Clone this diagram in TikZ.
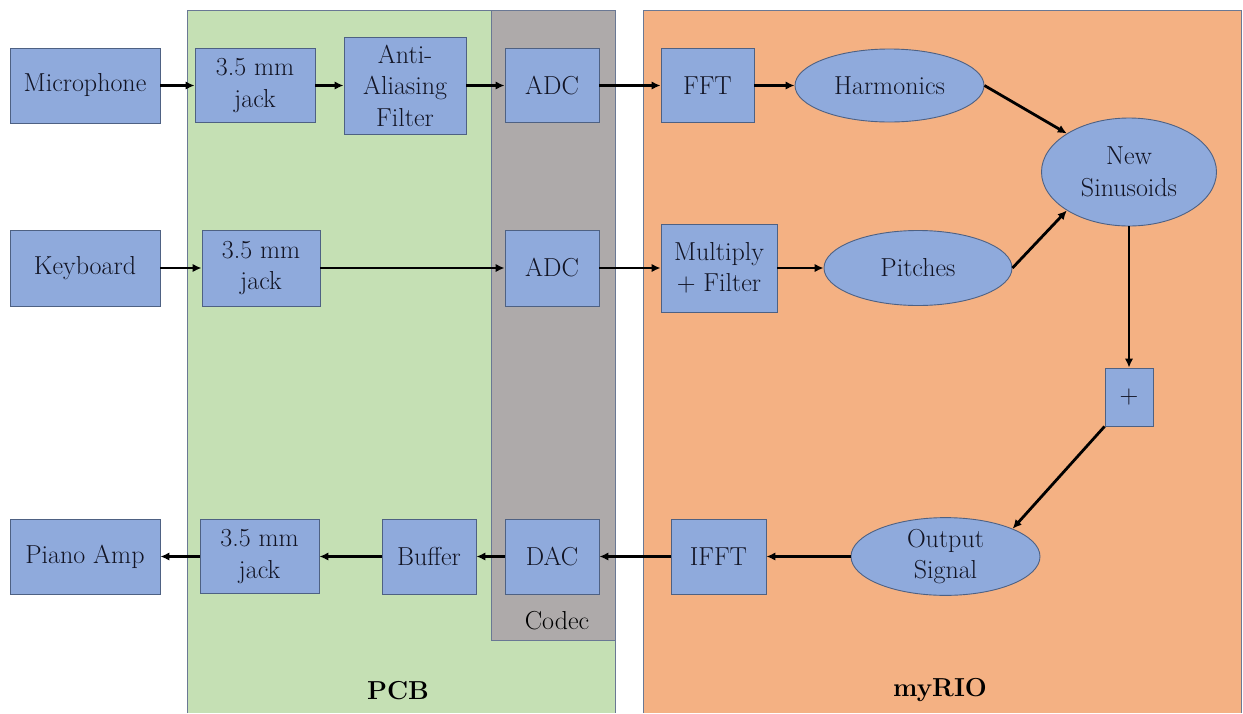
\documentclass[tikz,border=0pt]{standalone}
\usepackage{fontspec}
\usetikzlibrary{arrows.meta,shapes.geometric}

\definecolor{blockblue}{HTML}{8FAADC}
\definecolor{blockline}{HTML}{4E6183}
\definecolor{pcbgreen}{HTML}{C5E0B4}
\definecolor{codecgray}{HTML}{AEAAAA}
\definecolor{riorange}{HTML}{F4B183}
\definecolor{regionline}{HTML}{6A7894}
\definecolor{inktext}{HTML}{121424}

\begin{document}
\begin{tikzpicture}[x=1pt,y=-1pt,
    font=\fontsize{26}{31.5}\selectfont,
    block/.style={draw=blockline, line width=0.9pt, fill=blockblue, text=inktext,
                  inner sep=0pt, align=center},
    blob/.style={block, ellipse},
    flow/.style={line width=2.8pt, -{Latex[length=9pt,width=8.5pt]}}]

\useasboundingbox (0,0) rectangle (1243,713);
\fill[white] (0,0) rectangle (1243,713);

%% regions
\fill[pcbgreen] (187,10) rectangle (615,713);                       %% PCB
\draw[regionline, line width=0.8pt] (187,713) -- (187,10) -- (615,10) -- (615,713);
\filldraw[fill=codecgray, draw=regionline, line width=0.8pt] (491,10) rectangle (615,640); %% codec
\fill[riorange] (643,10) rectangle (1241,713);                      %% myRIO
\draw[regionline, line width=0.8pt] (643,713) -- (643,10) -- (1241,10) -- (1241,713);

%% region labels
\node (pcblbl)   at (398,691) {\bfseries PCB};
\node (riolbl)   at (940,690) {\bfseries myRIO};
\node (codeclbl) at (557,621) {Codec};

%% blocks, top row
\node[block, minimum width=150, minimum height=75] (mic)   at (85,85.5)  {Microphone};
\node[block, minimum width=120, minimum height=74] (jackA) at (255,85.5) {3.5 mm\\jack};
\node[block, minimum width=122, minimum height=97] (aaf)   at (405,85.5) {Anti-\\Aliasing\\Filter};
\node[block, minimum width=94,  minimum height=74] (adcA)  at (552,85.5) {ADC};
\node[block, minimum width=93,  minimum height=74] (fft)   at (707.5,85.5) {FFT};
\node[blob,  minimum width=189, minimum height=73] (harm)  at (889.5,85.5) {Harmonics};
\node[blob,  minimum width=175, minimum height=108] (newsin) at (1129,172) {New\\Sinusoids};

%% blocks, middle row
\node[block, minimum width=150, minimum height=76] (kbd)   at (85,268)  {Keyboard};
\node[block, minimum width=118, minimum height=76] (jackB) at (261,268) {3.5 mm\\jack};
\node[block, minimum width=94,  minimum height=76] (adcB)  at (552,268) {ADC};
\node[block, minimum width=116, minimum height=88] (mult)  at (719,268) {Multiply\\+ Filter};
\node[blob,  minimum width=188, minimum height=75] (pitch) at (918,268) {Pitches};
\node[block, minimum width=48,  minimum height=58] (plus)  at (1129,397) {+};

%% blocks, bottom row
\node[blob,  minimum width=189, minimum height=75] (outsig) at (945.5,556.5) {Output\\Signal};
\node[block, minimum width=95,  minimum height=75] (ifft)  at (718.5,556.5) {IFFT};
\node[block, minimum width=94,  minimum height=75] (dac)   at (552,556.5) {DAC};
\node[block, minimum width=94,  minimum height=75] (buf)   at (429,556.5) {Buffer};
\node[block, minimum width=119, minimum height=74] (jackC) at (259.5,556.5) {3.5 mm\\jack};
\node[block, minimum width=150, minimum height=75] (amp)   at (85,556.5) {Piano Amp};

%% arrows
\draw[flow] (mic) -- (jackA);
\draw[flow] (jackA) -- (aaf);
\draw[flow] (aaf) -- (adcA);
\draw[flow] (adcA) -- (fft);
\draw[flow] (fft) -- (harm);
\draw[flow] (harm.east) -- (newsin.north west);
\draw[flow] (kbd) -- (jackB);
\draw[flow] (jackB) -- (adcB);
\draw[flow] (adcB) -- (mult);
\draw[flow] (mult) -- (pitch);
\draw[flow] (pitch.east) -- (newsin.south west);
\draw[flow] (newsin.south) -- (plus.north);
\draw[flow] (plus.south west) -- (outsig.north east);
\draw[flow] (outsig) -- (ifft);
\draw[flow] (ifft) -- (dac);
\draw[flow] (dac) -- (buf);
\draw[flow] (buf) -- (jackC);
\draw[flow] (jackC) -- (amp);
\end{tikzpicture}
\end{document}
